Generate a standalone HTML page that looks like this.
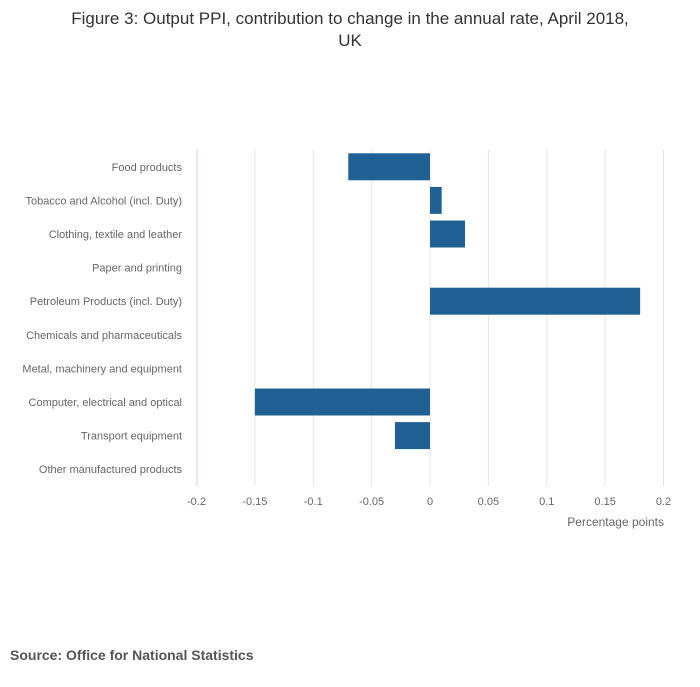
<!DOCTYPE html>
<html><head><meta charset="utf-8"><style>
body{margin:0;background:#fff;font-family:"Liberation Sans",sans-serif}
</style></head><body>
<svg width="700" height="682" xmlns="http://www.w3.org/2000/svg">
<text x="350" y="24" text-anchor="middle" font-size="17" fill="#333">Figure 3: Output PPI, contribution to change in the annual rate, April 2018,</text>
<text x="350" y="46" text-anchor="middle" font-size="17" fill="#333">UK</text>
<g id="grid"></g><g id="bars"></g><g id="ylabels"></g><g id="xlabels"></g>
<line x1="197" y1="150" x2="197" y2="486" stroke="#ccd6eb"/>
<text x="664" y="526" text-anchor="end" font-size="12" fill="#666">Percentage points</text>
<text x="10" y="660" font-size="14" font-weight="bold" fill="#555">Source: Office for National Statistics</text>
</svg>
<script>
const categories=["Food products","Tobacco and Alcohol (incl. Duty)","Clothing, textile and leather","Paper and printing","Petroleum Products (incl. Duty)","Chemicals and pharmaceuticals","Metal, machinery and equipment","Computer, electrical and optical","Transport equipment","Other manufactured products"];
const values=[-0.07,0.01,0.03,0,0.18,0,0,-0.15,-0.03,0];
const ticks=[-0.2,-0.15,-0.1,-0.05,0,0.05,0.1,0.15,0.2];
const tickLabels=["-0.2","-0.15","-0.1","-0.05","0","0.05","0.1","0.15","0.2"];
const NS="http://www.w3.org/2000/svg";
const x=v=>430+v*1167.5;
const plotTop=150,band=33.6;
const y=i=>plotTop+i*band;
function mk(t,a,p){const e=document.createElementNS(NS,t);for(const k in a)e.setAttribute(k,a[k]);document.getElementById(p).appendChild(e);return e;}
ticks.forEach((t,i)=>{
 if(i>0){const g=mk('line',{x1:x(t),x2:x(t),y1:plotTop,y2:486,stroke:'#e6e6e6'},'grid');
 
 }
 const l=mk('text',{x:x(t),y:505,'text-anchor':'middle','font-size':11,fill:'#666'},'xlabels');
 l.textContent=tickLabels[i];
 
 
});
categories.forEach((c,i)=>{
 const l=mk('text',{x:182,y:y(i)+band/2+4,'text-anchor':'end','font-size':11,fill:'#666'},'ylabels');
 l.textContent=c;
 
 
 const v=values[i];
 if(v!==0){const r=mk('rect',{x:Math.min(x(0),x(v)),y:y(i)+3.3,width:Math.abs(x(v)-x(0)),height:27,fill:'#206095'},'bars');
 
 }
});
</script>
</body></html>
